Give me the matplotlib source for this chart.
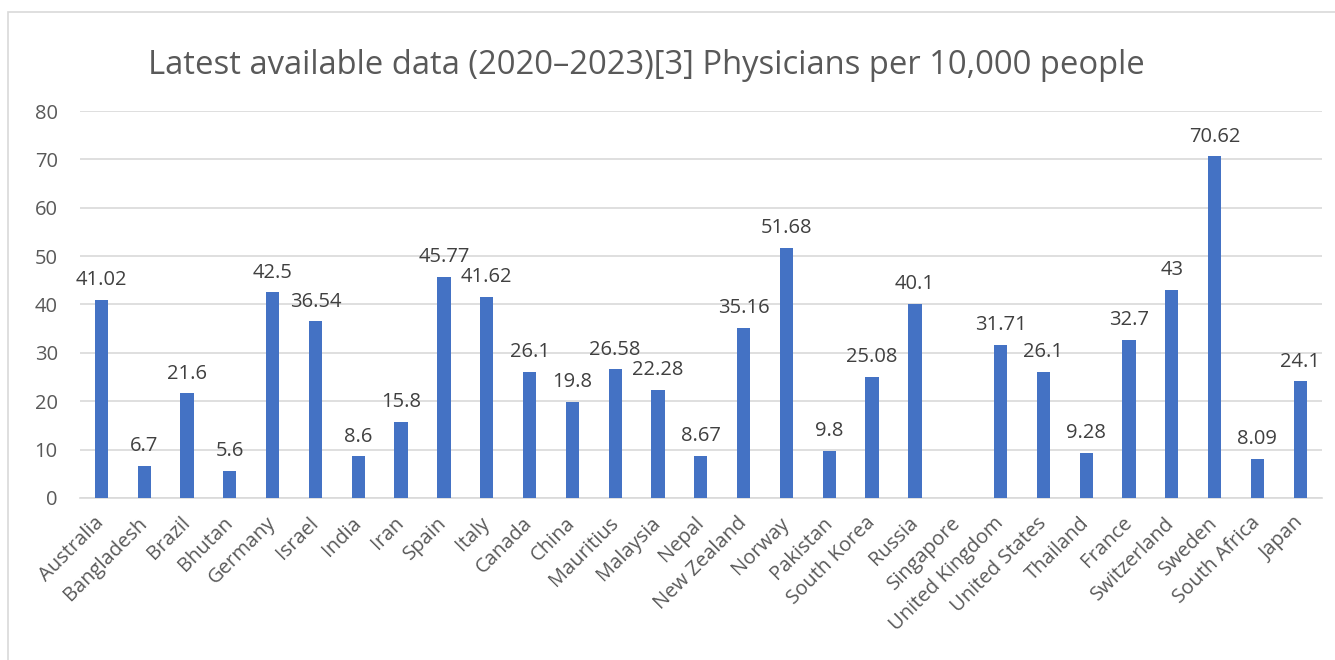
import numpy as np
import matplotlib
matplotlib.use("Agg")
import matplotlib.pyplot as plt
from matplotlib.patches import Rectangle

# Physicians per 10,000 people, latest available (2020-2023)
countries = ["Australia", "Bangladesh", "Brazil", "Bhutan", "Germany", "Israel",
             "India", "Iran", "Spain", "Italy", "Canada", "China", "Mauritius",
             "Malaysia", "Nepal", "New Zealand", "Norway", "Pakistan",
             "South Korea", "Russia", "Singapore", "United Kingdom",
             "United States", "Thailand", "France", "Switzerland", "Sweden",
             "South Africa", "Japan"]
values = [41.02, 6.7, 21.6, 5.6, 42.5, 36.54, 8.6, 15.8, 45.77, 41.62, 26.1,
          19.8, 26.58, 22.28, 8.67, 35.16, 51.68, 9.8, 25.08, 40.1, np.nan,
          31.71, 26.1, 9.28, 32.7, 43, 70.62, 8.09, 24.1]
value_labels = ["41.02", "6.7", "21.6", "5.6", "42.5", "36.54", "8.6", "15.8",
                "45.77", "41.62", "26.1", "19.8", "26.58", "22.28", "8.67",
                "35.16", "51.68", "9.8", "25.08", "40.1", "", "31.71", "26.1",
                "9.28", "32.7", "43", "70.62", "8.09", "24.1"]
yticks = [0, 10, 20, 30, 40, 50, 60, 70, 80]

plt.rcParams['font.family'] = ['Open Sans', 'DejaVu Sans']

fig = plt.figure(figsize=(13.35, 6.6), dpi=100)
ax = fig.add_axes([0.0599, 0.2455, 0.9301, 0.5863])

x = np.arange(len(countries))
bars = ax.bar(x, np.nan_to_num(values), width=0.31, color="#4472c4", zorder=3)
ax.bar_label(bars, labels=value_labels, padding=7, fontsize=14.5, color="#404040")

ax.set_xlim(-0.5, len(countries) - 0.5)
ax.set_ylim(0, 80)
ax.set_yticks(yticks)
ax.set_yticklabels([str(t) for t in yticks], fontsize=14.5, color="#595959")
ax.set_xticks(x)
ax.set_xticklabels(countries, rotation=45, ha="right", va="center",
                   rotation_mode="anchor", fontsize=14.5, color="#595959")
ax.tick_params(axis="both", length=0)
ax.tick_params(axis="x", pad=16)
ax.tick_params(axis="y", pad=16)
ax.grid(axis="y", color="#d9d9d9", linewidth=1.2, zorder=0)
for side in ["top", "right", "left"]:
    ax.spines[side].set_visible(False)
ax.spines["bottom"].set_color("#d9d9d9")
ax.spines["bottom"].set_linewidth(1.2)

fig.text(0.484, 0.90, "Latest available data (2020\u20132023)[3] Physicians per 10,000 people",
         ha="center", va="center", fontsize=23.6, color="#595959")

# chart border
fig.patches.append(Rectangle((8 / 1335, -0.1), 1.2, 1.1 - 12 / 660,
                             transform=fig.transFigure, fill=False,
                             edgecolor="#d9d9d9", linewidth=1.2))

fig.savefig("out.png", dpi=100)
